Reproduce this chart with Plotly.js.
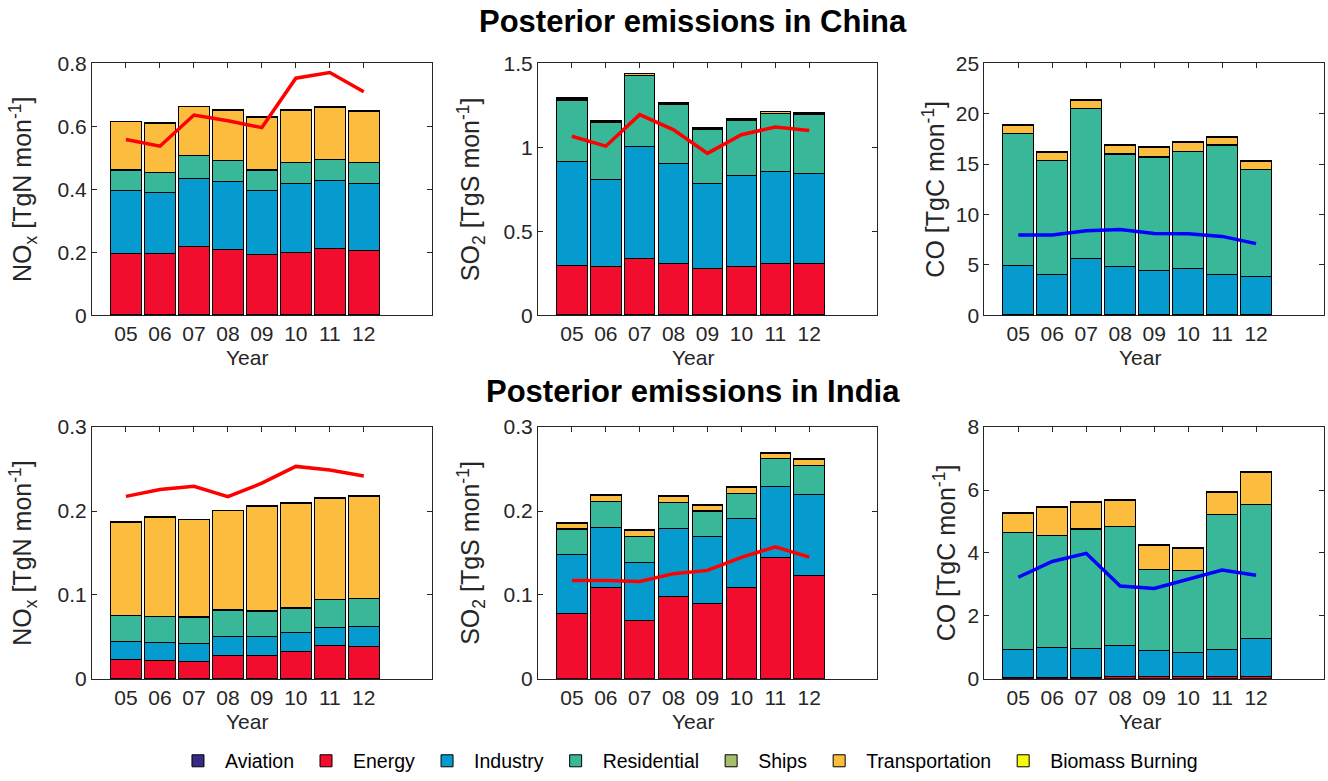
<!DOCTYPE html>
<html><head><meta charset="utf-8">
<script src="https://cdn.plot.ly/plotly-3.0.1.min.js"></script>
<style>html,body{margin:0;padding:0;background:#fff}#chart{width:1328px;height:781px}</style>
</head><body><div id="chart"></div>
<script>
const years = ['05','06','07','08','09','10','11','12'];
const sectors = ['Aviation','Energy','Industry','Residential','Ships','Transportation','Biomass Burning'];
const sectorColors = ['#352A87','#F20C2E','#069BCF','#38B799','#A5BE6A','#FCBC3D','#F8FA0D'];

// China NOx [TgN/mon]
const cnNOxAviation    = [0.002,0.002,0.002,0.002,0.002,0.002,0.002,0.002];
const cnNOxEnergy      = [0.195,0.193,0.215,0.207,0.190,0.196,0.209,0.204];
const cnNOxIndustry    = [0.200,0.194,0.218,0.215,0.204,0.219,0.216,0.211];
const cnNOxResidential = [0.064,0.063,0.072,0.067,0.065,0.067,0.068,0.068];
const cnNOxShips       = [0.001,0.001,0.001,0.001,0.001,0.001,0.001,0.001];
const cnNOxTransport   = [0.153,0.156,0.154,0.158,0.165,0.165,0.164,0.162];
const cnNOxBiomass     = [0.002,0.002,0.002,0.002,0.003,0.002,0.002,0.002];
const cnNOxLine        = [0.558,0.537,0.636,0.618,0.596,0.753,0.771,0.710];

// China SO2 [TgS/mon]
const cnSO2Aviation    = [0.001,0.001,0.001,0.001,0.001,0.001,0.001,0.001];
const cnSO2Energy      = [0.295,0.287,0.334,0.307,0.275,0.291,0.308,0.305];
const cnSO2Industry    = [0.617,0.518,0.672,0.597,0.511,0.538,0.545,0.538];
const cnSO2Residential = [0.368,0.339,0.422,0.353,0.319,0.331,0.348,0.353];
const cnSO2Ships       = [0.002,0.002,0.002,0.002,0.002,0.002,0.002,0.002];
const cnSO2Transport   = [0.009,0.007,0.007,0.005,0.007,0.007,0.009,0.008];
const cnSO2Biomass     = [0.003,0.005,0.003,0.004,0.003,0.003,0.003,0.003];
const cnSO2Line        = [1.066,1.007,1.195,1.104,0.964,1.075,1.121,1.100];

// China CO [TgC/mon]
const cnCOAviation    = [0.01,0.01,0.01,0.01,0.01,0.01,0.01,0.01];
const cnCOEnergy      = [0.06,0.05,0.06,0.06,0.05,0.06,0.05,0.05];
const cnCOIndustry    = [4.86,4.01,5.58,4.79,4.41,4.59,4.01,3.75];
const cnCOResidential = [13.14,11.24,14.88,11.14,11.23,11.57,12.82,10.61];
const cnCOShips       = [0.02,0.02,0.02,0.02,0.02,0.02,0.02,0.02];
const cnCOTransport   = [0.73,0.80,0.77,0.87,0.94,0.90,0.73,0.77];
const cnCOBiomass     = [0.10,0.10,0.13,0.09,0.06,0.10,0.10,0.13];
const cnCOLine        = [7.95,7.95,8.38,8.51,8.11,8.08,7.82,7.10];

// India NOx [TgN/mon]
const inNOxAviation    = [0.0005,0.0005,0.0005,0.0005,0.0005,0.0005,0.0005,0.0005];
const inNOxEnergy      = [0.0227,0.0211,0.0207,0.0278,0.0274,0.0317,0.0396,0.0376];
const inNOxIndustry    = [0.0208,0.0220,0.0213,0.0224,0.0228,0.0225,0.0212,0.0244];
const inNOxResidential = [0.0311,0.0307,0.0310,0.0311,0.0299,0.0295,0.0327,0.0327];
const inNOxShips       = [0.0003,0.0003,0.0003,0.0003,0.0003,0.0003,0.0003,0.0003];
const inNOxTransport   = [0.1114,0.1181,0.1157,0.1181,0.1244,0.1247,0.1208,0.1216];
const inNOxBiomass     = [0.0010,0.0010,0.0010,0.0010,0.0010,0.0010,0.0010,0.0010];
const inNOxLine        = [0.2175,0.2257,0.2296,0.2171,0.2332,0.2532,0.2489,0.2418];

// India SO2 [TgS/mon]
const inSO2Aviation    = [0.0003,0.0003,0.0003,0.0003,0.0003,0.0003,0.0003,0.0003];
const inSO2Energy      = [0.0776,0.1090,0.0697,0.0980,0.0894,0.1082,0.1440,0.1232];
const inSO2Industry    = [0.0707,0.0716,0.0692,0.0814,0.0802,0.0830,0.0850,0.0963];
const inSO2Residential = [0.0299,0.0307,0.0307,0.0307,0.0299,0.0295,0.0330,0.0342];
const inSO2Ships       = [0.0003,0.0003,0.0003,0.0003,0.0003,0.0003,0.0008,0.0003];
const inSO2Transport   = [0.0064,0.0063,0.0063,0.0067,0.0063,0.0063,0.0058,0.0071];
const inSO2Biomass     = [0.0008,0.0012,0.0012,0.0008,0.0012,0.0016,0.0011,0.0012];
const inSO2Line        = [0.1171,0.1171,0.1160,0.1254,0.1293,0.1447,0.1573,0.1451];

// India CO [TgC/mon]
const inCOAviation    = [0.01,0.01,0.01,0.01,0.01,0.01,0.01,0.01];
const inCOEnergy      = [0.04,0.03,0.03,0.05,0.05,0.06,0.07,0.07];
const inCOIndustry    = [0.88,0.945,0.924,1.00,0.83,0.78,0.85,1.21];
const inCOResidential = [3.71,3.575,3.796,3.77,2.58,2.59,4.29,4.24];
const inCOShips       = [0.005,0.005,0.005,0.005,0.005,0.005,0.005,0.005];
const inCOTransport   = [0.60,0.87,0.84,0.82,0.76,0.70,0.69,1.03];
const inCOBiomass     = [0.03,0.03,0.03,0.03,0.04,0.04,0.03,0.03];
const inCOLine        = [3.23,3.73,3.99,2.95,2.87,3.16,3.46,3.29];

const yTitles = ['NO<sub>x</sub> [TgN mon<sup>-1</sup>]','SO<sub>2</sub> [TgS mon<sup>-1</sup>]','CO [TgC mon<sup>-1</sup>]',
                 'NO<sub>x</sub> [TgN mon<sup>-1</sup>]','SO<sub>2</sub> [TgS mon<sup>-1</sup>]','CO [TgC mon<sup>-1</sup>]'];
const xTitle = 'Year';
const panelTitles = ['Posterior emissions in China','Posterior emissions in India'];
const yMax = [0.8,1.5,25,0.3,0.3,8];
const yStep = [0.2,0.5,5,0.1,0.1,2];
const lineColors = ['#FF0000','#FF0000','#0000FF','#FF0000','#FF0000','#0000FF'];

const panels = [
  {stack:[cnNOxAviation,cnNOxEnergy,cnNOxIndustry,cnNOxResidential,cnNOxShips,cnNOxTransport,cnNOxBiomass], line:cnNOxLine},
  {stack:[cnSO2Aviation,cnSO2Energy,cnSO2Industry,cnSO2Residential,cnSO2Ships,cnSO2Transport,cnSO2Biomass], line:cnSO2Line},
  {stack:[cnCOAviation,cnCOEnergy,cnCOIndustry,cnCOResidential,cnCOShips,cnCOTransport,cnCOBiomass], line:cnCOLine},
  {stack:[inNOxAviation,inNOxEnergy,inNOxIndustry,inNOxResidential,inNOxShips,inNOxTransport,inNOxBiomass], line:inNOxLine},
  {stack:[inSO2Aviation,inSO2Energy,inSO2Industry,inSO2Residential,inSO2Ships,inSO2Transport,inSO2Biomass], line:inSO2Line},
  {stack:[inCOAviation,inCOEnergy,inCOIndustry,inCOResidential,inCOShips,inCOTransport,inCOBiomass], line:inCOLine}
];

const W = 1328, H = 781;
const xDom = [[92/W, 431.7/W],[538/W, 877/W],[984.3/W, 1324/W]];
const yDom = [[1-318/H, 1-64/H],[1-685/H, 1-431/H]];
const yStandoff = [18,16,3,18,16,4];

const traces = [];
const layout = {
  width: W, height: H,
  margin: {l:0, r:0, t:0, b:0},
  paper_bgcolor: '#fff', plot_bgcolor: '#fff',
  barmode: 'stack', bargap: 0.1,
  font: {family: 'Liberation Sans, Arial, sans-serif', color: '#262626'},
  showlegend: true,
  legend: {orientation: 'h', x: 0.5173, xanchor: 'center', y: 1-768/H, yanchor: 'middle',
           font: {family: 'Liberation Sans, sans-serif', size: 19.5, color: '#000'},
           itemwidth: 44, traceorder: 'normal', itemclick: false, itemdoubleclick: false},
  annotations: [
    {text: '<b>'+panelTitles[0]+'</b>', xref: 'paper', yref: 'paper', x: 693/W, y: 1-22/H,
     xanchor: 'center', yanchor: 'middle', showarrow: false, font: {size: 31, color: '#000'}},
    {text: '<b>'+panelTitles[1]+'</b>', xref: 'paper', yref: 'paper', x: 693/W, y: 1-395/H,
     xanchor: 'center', yanchor: 'middle', showarrow: false, font: {size: 31, color: '#000'}}
  ]
};

panels.forEach((p, k) => {
  const ax = k === 0 ? '' : String(k+1);
  p.stack.forEach((vals, s) => {
    traces.push({
      type: 'bar', x: years, y: vals, name: sectors[s],
      xaxis: 'x'+ax, yaxis: 'y'+ax,
      legendgroup: sectors[s], showlegend: k === 0,
      marker: {color: sectorColors[s], line: {color: '#000', width: 1}},
      hoverinfo: 'name+y'
    });
  });
  traces.push({
    type: 'scatter', mode: 'lines', x: years, y: p.line,
    xaxis: 'x'+ax, yaxis: 'y'+ax, showlegend: false,
    line: {color: lineColors[k], width: 3.5}
  });
  const col = k % 3, row = Math.floor(k / 3);
  layout['xaxis'+ax] = {
    domain: xDom[col], anchor: 'y'+ax, type: 'category',
    range: [-1, 9], showline: true, linecolor: '#262626', linewidth: 1, mirror: 'ticks',
    ticks: 'inside', ticklen: 5, tickcolor: '#262626', showgrid: false, zeroline: false,
    tickfont: {size: 21, color: '#262626'}, layer: 'below traces'
  };
  layout['yaxis'+ax] = {
    domain: yDom[row], anchor: 'x'+ax, range: [0, yMax[k]], dtick: yStep[k], tick0: 0,
    showline: true, linecolor: '#262626', linewidth: 1, mirror: 'ticks',
    ticks: 'inside', ticklen: 5, tickcolor: '#262626', showgrid: false, zeroline: false,
    tickfont: {size: 21, color: '#262626'},
    title: {text: yTitles[k], font: {size: 25, color: '#262626'}, standoff: yStandoff[k]}
  };
  layout.annotations.push({
    text: xTitle, xref: 'x'+ax+' domain', yref: 'y'+ax+' domain', x: 0.457, y: 0,
    xanchor: 'center', yanchor: 'top', yshift: -29, showarrow: false,
    font: {size: 21, color: '#262626'}
  });
});

Plotly.newPlot('chart', traces, layout, {displayModeBar: false, staticPlot: true});
</script>
</body></html>
